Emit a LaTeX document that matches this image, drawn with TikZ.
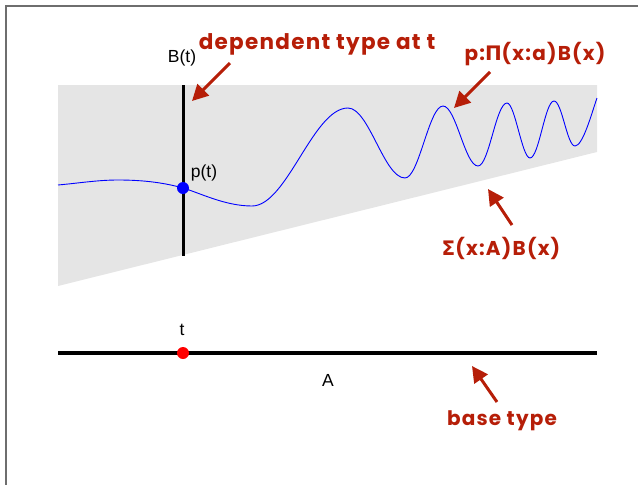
\documentclass[tikz,border=0pt]{standalone}
\usepackage{fontspec}
\setmainfont{Liberation Sans}
\newfontfamily\comicfont{Poppins}[LetterSpace=6]
\newfontfamily\greekfont{DejaVu Sans}
\usetikzlibrary{arrows.meta}
\definecolor{framegray}{RGB}{110,110,110}
\definecolor{regiongray}{RGB}{229,229,229}
\definecolor{annred}{RGB}{182,30,8}
\tikzset{
  blacklabel/.style={font=\fontsize{17.5}{20}\selectfont, inner sep=0pt, text=black},
  redlabel/.style={font=\comicfont\bfseries\fontsize{20}{24}\selectfont, inner sep=0pt, text=annred},
  annarrow/.style={draw=annred, line width=3pt, -{Triangle[length=16pt,width=16pt]}},
  dotmark/.style={circle, inner sep=0pt, minimum size=12pt},
}
\newcommand{\gk}[1]{{\greekfont\bfseries #1}}
\begin{document}
\begin{tikzpicture}[x=1pt,y=-1pt]
\useasboundingbox (0,0) rectangle (638,485);
% frame
\draw[framegray, line width=2pt] (5.5,485) -- (5.5,5.5) -- (638,5.5);
% dependent sum region
\fill[regiongray] (58,85) -- (597,85) -- (597,152) -- (58,286) -- cycle;
% fibre B(t)
\coordinate (ftop) at (183,85);
\coordinate (fbot) at (183,256);
\draw[line width=3pt] (ftop) -- (fbot);
% section p
\draw[blue, line width=0.9pt]
  (58,185) .. controls (80,183) and (98,180) .. (118,180)
  .. controls (145,180) and (165,183) .. (183,188)
  .. controls (200,193) and (225,206) .. (252,206)
  .. controls (287,206) and (313,108) .. (348,108)
  .. controls (369,108) and (384,178) .. (405,178)
  .. controls (419,178) and (429,106) .. (443,106)
  .. controls (456,106) and (465,166) .. (478,166)
  .. controls (489,166) and (496,103) .. (507,103)
  .. controls (515,103) and (522,158) .. (530,158)
  .. controls (539,158) and (545,101) .. (554,101)
  .. controls (562,101) and (567,146) .. (575,146)
  .. controls (583,146) and (592,112) .. (597,98);
\node[dotmark, fill=blue] (pt) at (183,188) {};
% base type A
\coordinate (aleft) at (58,353);
\coordinate (aright) at (597,353);
\draw[line width=3.5pt] (aleft) -- (aright);
\node[dotmark, fill=red] (tdot) at (183,353) {};
% black labels
\node[blacklabel] (Bt) at (182,58) {B(t)};
\node[blacklabel] (ptl) at (204,173) {p(t)};
\node[blacklabel] (tl) at (182,330) {t};
\node[blacklabel] (Al) at (328,380) {A};
% red annotations
\node[redlabel, font=\comicfont\bfseries\fontsize{21.5}{24}\selectfont] (dep) at (317,44) {dependent type at t};
\node[redlabel] (pi) at (535,54) {p:\gk{Π}(x:a)B(x)};
\node[redlabel] (sig) at (501,248) {\gk{Σ}(x:A)B(x)};
\node[redlabel] (base) at (502,421) {base type};
% arrows
\coordinate (deptail) at (230,63);
\coordinate (deptip) at (192,101);
\coordinate (pitail) at (490,72);
\coordinate (pitip) at (454,108);
\coordinate (sigtail) at (512,225);
\coordinate (sigtip) at (488,189);
\coordinate (basetail) at (497,402);
\coordinate (basetip) at (472,366);
\draw[annarrow] (deptail) -- (deptip);
\draw[annarrow] (pitail) -- (pitip);
\draw[annarrow] (sigtail) -- (sigtip);
\draw[annarrow] (basetail) -- (basetip);
\end{tikzpicture}
\end{document}
